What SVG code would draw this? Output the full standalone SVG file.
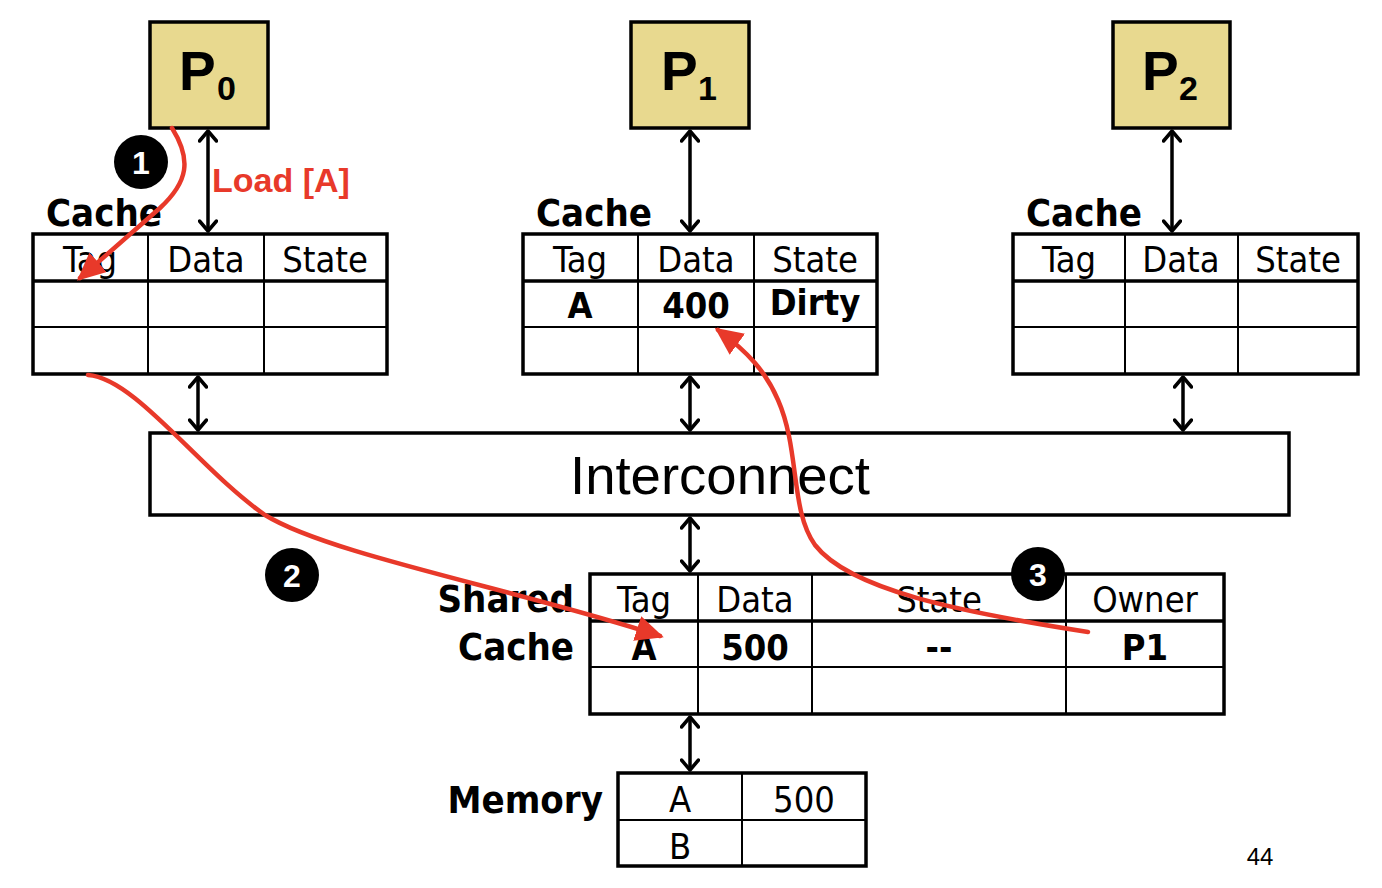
<svg xmlns="http://www.w3.org/2000/svg" width="1382" height="888" viewBox="0 0 1382 888">
<style>
.proc{fill:#E8D98F;stroke:#000;stroke-width:3.5}
.tbl{fill:#fff;stroke:#000;stroke-width:3.5}
.ln{stroke:#000;stroke-width:2}
.hl{stroke:#000;stroke-width:3.5}
.th{font-family:"DejaVu Sans Condensed","DejaVu Sans",sans-serif;font-size:36px;text-anchor:middle;fill:#000}
.tb{font-family:"DejaVu Sans Condensed","DejaVu Sans",sans-serif;font-size:36px;font-weight:bold;text-anchor:middle;fill:#000}
.lbl{font-family:"DejaVu Sans Condensed","DejaVu Sans",sans-serif;font-size:38px;font-weight:bold;fill:#000}
.pl{font-family:"Liberation Sans",Arial,sans-serif;font-weight:bold;fill:#000}
.bi{stroke:#000;stroke-width:3.5;fill:none;marker-start:url(#chev);marker-end:url(#chev)}
.red{stroke:#E8392A;stroke-width:4.5;fill:none;stroke-linecap:round;marker-end:url(#rh)}
.badge{fill:#000}
.bt{font-family:"Liberation Sans",Arial,sans-serif;font-weight:bold;font-size:32px;fill:#fff;text-anchor:middle}
</style>
<defs>
<marker id="chev" viewBox="0 0 18 20" refX="16" refY="10" markerWidth="18" markerHeight="20" orient="auto-start-reverse" markerUnits="userSpaceOnUse">
<path d="M6,1.5 L16,10 L6,18.5" fill="none" stroke="#000" stroke-width="3.5" stroke-linecap="round" stroke-linejoin="round"/>
</marker>
<marker id="rh" viewBox="0 0 28 26" refX="24" refY="13" markerWidth="28" markerHeight="26" orient="auto" markerUnits="userSpaceOnUse">
<path d="M0,0 L28,13 L0,26 Z" fill="#E8392A"/>
</marker>
</defs>
<rect width="1382" height="888" fill="#fff"/>

<g id="P0"><rect class="proc" x="150" y="22" width="118" height="106"/><text class="pl" x="179" y="90" font-size="55">P</text><text class="pl" x="217" y="100" font-size="34">0</text></g>
<g id="P1"><rect class="proc" x="631" y="22" width="118" height="106"/><text class="pl" x="661" y="90" font-size="55">P</text><text class="pl" x="698" y="100" font-size="34">1</text></g>
<g id="P2"><rect class="proc" x="1113" y="22" width="117" height="106"/><text class="pl" x="1142" y="90" font-size="55">P</text><text class="pl" x="1179" y="100" font-size="34">2</text></g>

<g id="cache0">
<text class="lbl" x="46" y="226">Cache</text>
<rect class="tbl" x="33" y="234" width="354" height="140"/>
<line class="hl" x1="33" y1="281" x2="387" y2="281"/>
<line class="ln" x1="33" y1="327" x2="387" y2="327"/>
<line class="ln" x1="148" y1="234" x2="148" y2="374"/>
<line class="ln" x1="264" y1="234" x2="264" y2="374"/>
<text class="th" x="90" y="272">Tag</text><text class="th" x="206" y="272">Data</text><text class="th" x="325" y="272">State</text>
</g>
<g id="cache1">
<text class="lbl" x="536" y="226">Cache</text>
<rect class="tbl" x="523" y="234" width="354" height="140"/>
<line class="hl" x1="523" y1="281" x2="877" y2="281"/>
<line class="ln" x1="523" y1="327" x2="877" y2="327"/>
<line class="ln" x1="638" y1="234" x2="638" y2="374"/>
<line class="ln" x1="754" y1="234" x2="754" y2="374"/>
<text class="th" x="580" y="272">Tag</text><text class="th" x="696" y="272">Data</text><text class="th" x="815" y="272">State</text>
<text class="tb" x="580" y="318">A</text><text class="tb" x="696" y="318">400</text><text class="tb" x="815" y="315">Dirty</text>
</g>
<g id="cache2">
<text class="lbl" x="1026" y="226">Cache</text>
<rect class="tbl" x="1013" y="234" width="345" height="140"/>
<line class="hl" x1="1013" y1="281" x2="1358" y2="281"/>
<line class="ln" x1="1013" y1="327" x2="1358" y2="327"/>
<line class="ln" x1="1125" y1="234" x2="1125" y2="374"/>
<line class="ln" x1="1238" y1="234" x2="1238" y2="374"/>
<text class="th" x="1069" y="272">Tag</text><text class="th" x="1181" y="272">Data</text><text class="th" x="1298" y="272">State</text>
</g>

<g id="interconnect">
<rect class="tbl" x="150" y="433" width="1139" height="82"/>
<text x="720" y="494" font-family="'Liberation Sans',Arial,sans-serif" font-size="54" text-anchor="middle" fill="#000" textLength="300" lengthAdjust="spacingAndGlyphs">Interconnect</text>
</g>

<g id="shared">
<text class="lbl" x="574" y="612" text-anchor="end">Shared</text>
<text class="lbl" x="574" y="660" text-anchor="end">Cache</text>
<rect class="tbl" x="590" y="574" width="634" height="140"/>
<line class="hl" x1="590" y1="621" x2="1224" y2="621"/>
<line class="ln" x1="590" y1="667" x2="1224" y2="667"/>
<line class="ln" x1="698" y1="574" x2="698" y2="714"/>
<line class="ln" x1="812" y1="574" x2="812" y2="714"/>
<line class="ln" x1="1066" y1="574" x2="1066" y2="714"/>
<text class="th" x="644" y="612">Tag</text><text class="th" x="755" y="612">Data</text><text class="th" x="939" y="612">State</text><text class="th" x="1145" y="612">Owner</text>
<text class="tb" x="644" y="660">A</text><text class="tb" x="755" y="660">500</text><text class="tb" x="939" y="660">--</text><text class="tb" x="1145" y="660">P1</text>
</g>

<g id="memory">
<text class="lbl" x="603" y="813" text-anchor="end">Memory</text>
<rect class="tbl" x="618" y="773" width="248" height="93"/>
<line class="ln" x1="618" y1="820" x2="866" y2="820"/>
<line class="ln" x1="742" y1="773" x2="742" y2="866"/>
<text class="th" x="680" y="812">A</text><text class="th" x="804" y="812">500</text>
<text class="th" x="680" y="859">B</text>
</g>

<g id="connectors">
<line class="bi" x1="208" y1="131" x2="208" y2="231"/>
<line class="bi" x1="690" y1="131" x2="690" y2="231"/>
<line class="bi" x1="1172" y1="131" x2="1172" y2="231"/>
<line class="bi" x1="198" y1="377" x2="198" y2="430"/>
<line class="bi" x1="690" y1="377" x2="690" y2="430"/>
<line class="bi" x1="1183" y1="377" x2="1183" y2="430"/>
<line class="bi" x1="690" y1="518" x2="690" y2="571"/>
<line class="bi" x1="690" y1="717" x2="690" y2="770"/>
<path class="red" d="M172,128 C192,160 188,182 160,208 L80,278"/>
<path class="red" d="M88,375 C135,378 200,470 265,515 C330,555 520,590 660,636"/>
<path class="red" d="M1088,632 C960,612 850,590 815,545 C790,510 800,450 778,400 C766,372 748,352 718,330"/>
</g>

<g id="labels">
<text x="212" y="192" font-family="'Liberation Sans',Arial,sans-serif" font-weight="bold" font-size="34" fill="#E8392A">Load [A]</text>
<circle class="badge" cx="141" cy="162" r="27"/><text class="bt" x="141" y="174">1</text>
<circle class="badge" cx="292" cy="575" r="27"/><text class="bt" x="292" y="587">2</text>
<circle class="badge" cx="1038" cy="574" r="27"/><text class="bt" x="1038" y="586">3</text>
<text x="1260" y="865" font-family="'Liberation Sans',Arial,sans-serif" font-size="24" text-anchor="middle" fill="#000">44</text>
</g>
</svg>
